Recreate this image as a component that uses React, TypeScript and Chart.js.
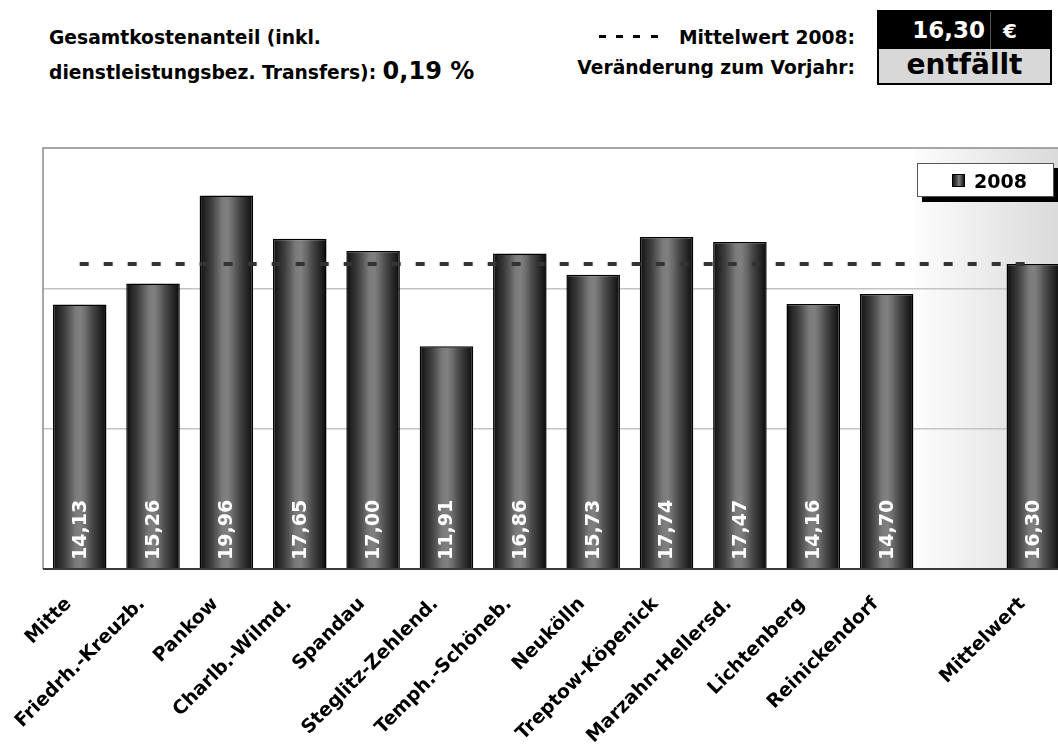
import React, { useEffect, useRef } from "react";
import { Chart, registerables } from "chart.js";

Chart.register(...registerables);

const categories = [
  "Mitte",
  "Friedrh.-Kreuzb.",
  "Pankow",
  "Charlb.-Wilmd.",
  "Spandau",
  "Steglitz-Zehlend.",
  "Temph.-Schöneb.",
  "Neukölln",
  "Treptow-Köpenick",
  "Marzahn-Hellersd.",
  "Lichtenberg",
  "Reinickendorf",
  "",
  "Mittelwert",
];
const values2008: (number | null)[] = [
  14.13, 15.26, 19.96, 17.65, 17.0, 11.91, 16.86, 15.73, 17.74, 17.47, 14.16, 14.7, null, 16.3,
];
const meanLine = [16.3, 16.3, 16.3, 16.3, 16.3, 16.3, 16.3, 16.3, 16.3, 16.3, 16.3, 16.3, 16.3, 16.3];
const yTicks = [0, 7.5, 15, 22.5];
const seriesLabel = "2008";

const FONT = "'DejaVu Sans', Verdana, sans-serif";
const BAR_PCT = 0.73;
const fmt = (v: number) => v.toFixed(2).replace(".", ",");

function barGradient(ctx: CanvasRenderingContext2D, x0: number, x1: number) {
  const g = ctx.createLinearGradient(x0, 0, x1, 0);
  g.addColorStop(0, "#0c0c0c");
  g.addColorStop(0.1, "#262626");
  g.addColorStop(0.2, "#3a3a3a");
  g.addColorStop(0.3, "#555555");
  g.addColorStop(0.42, "#7a7a7a");
  g.addColorStop(0.52, "#808080");
  g.addColorStop(0.62, "#6a6a6a");
  g.addColorStop(0.72, "#4c4c4c");
  g.addColorStop(0.82, "#343434");
  g.addColorStop(0.92, "#1e1e1e");
  g.addColorStop(1, "#080808");
  return g;
}

const decorPlugin = {
  id: "decor",
  beforeDraw(chart: any) {
    const { ctx, chartArea } = chart;
    if (!chartArea) return;
    const xs = chart.scales.x;
    const step = (chartArea.right - chartArea.left) / categories.length;
    const start = xs.getPixelForValue(11) + (step * BAR_PCT) / 2;
    ctx.save();
    const g = ctx.createLinearGradient(start, 0, chartArea.right, 0);
    g.addColorStop(0, "#fdfdfd");
    g.addColorStop(0.6, "#e6e6e6");
    g.addColorStop(1, "#d8d8d8");
    ctx.fillStyle = g;
    ctx.fillRect(start, chartArea.top, chartArea.right - start, chartArea.bottom - chartArea.top);
    ctx.restore();
  },
  afterDatasetsDraw(chart: any) {
    const { ctx, chartArea } = chart;
    const meta = chart.getDatasetMeta(1);
    ctx.save();
    ctx.strokeStyle = "#8a8a8a";
    ctx.lineWidth = 1.5;
    ctx.beginPath();
    ctx.moveTo(chartArea.left, chartArea.bottom);
    ctx.lineTo(chartArea.left, chartArea.top);
    ctx.lineTo(chartArea.right, chartArea.top);
    ctx.stroke();
    ctx.strokeStyle = "#3a3a3a";
    ctx.lineWidth = 2;
    ctx.beginPath();
    ctx.moveTo(chartArea.left, chartArea.bottom);
    ctx.lineTo(chartArea.right, chartArea.bottom);
    ctx.stroke();
    ctx.fillStyle = "#ffffff";
    ctx.font = `bold 19px ${FONT}`;
    ctx.textAlign = "left";
    ctx.textBaseline = "middle";
    meta.data.forEach((bar: any, i: number) => {
      const v = values2008[i];
      if (v == null) return;
      ctx.save();
      ctx.translate(bar.x + 1, chartArea.bottom - 9);
      ctx.rotate(-Math.PI / 2);
      ctx.fillText(fmt(v), 0, 0);
      ctx.restore();
    });
    ctx.restore();
  },
};

function ChartBox() {
  const ref = useRef<HTMLCanvasElement | null>(null);
  useEffect(() => {
    if (!ref.current) return;
    const chart = new Chart(ref.current, {
      type: "bar",
      data: {
        labels: categories,
        datasets: [
          {
            type: "line",
            label: "Mittelwert 2008",
            data: meanLine,
            borderColor: "#333333",
            borderWidth: 4,
            borderDash: [9, 15],
            pointRadius: 0,
            fill: false,
            order: 0,
          } as any,
          {
            type: "bar",
            label: seriesLabel,
            data: values2008,
            order: 1,
            categoryPercentage: 1,
            barPercentage: BAR_PCT,
            borderColor: "#000000",
            borderWidth: { top: 1.5, left: 1.5, right: 1.5, bottom: 0 },
            borderSkipped: false,
            backgroundColor: (c: any) => {
              const ch = c.chart;
              const area = ch.chartArea;
              if (!area || !ch.scales.x) return "#555";
              const step = (area.right - area.left) / categories.length;
              const w = step * BAR_PCT;
              const x = ch.scales.x.getPixelForValue(c.dataIndex);
              return barGradient(ch.ctx, x - w / 2, x + w / 2);
            },
          } as any,
        ],
      },
      options: {
        animation: false,
        responsive: false,
        devicePixelRatio: 1,
        layout: { padding: { left: 43, top: 8, right: 5, bottom: 0 } },
        plugins: { legend: { display: false }, tooltip: { enabled: false } },
        scales: {
          x: {
            grid: { display: false },
            border: { display: false },
            ticks: {
              autoSkip: false,
              minRotation: 45,
              maxRotation: 45,
              color: "#000",
              padding: 16,
              labelOffset: -11,
              font: { family: FONT, weight: "bold", size: 19 },
            },
            afterFit: (s: any) => {
              s.height = 177;
            },
          },
          y: {
            min: yTicks[0],
            max: yTicks[yTicks.length - 1],
            afterBuildTicks: (s: any) => {
              s.ticks = yTicks.map((v) => ({ value: v }));
            },
            ticks: { display: false },
            grid: {
              drawTicks: false,
              lineWidth: 1.5,
              color: (c: any) =>
                c.tick && (c.tick.value === 7.5 || c.tick.value === 15) ? "#c4c4c4" : "rgba(0,0,0,0)",
            },
            border: { display: false },
            afterFit: (s: any) => {
              s.width = 0;
            },
          },
        },
      },
      plugins: [decorPlugin],
    });
    return () => chart.destroy();
  }, []);
  return <canvas ref={ref} width={1075} height={606} style={{ display: "block" }} />;
}

export default function App() {
  useEffect(() => {
    document.body.style.margin = "0";
  }, []);
  const bold: React.CSSProperties = { fontFamily: FONT, fontWeight: "bold", position: "absolute", whiteSpace: "nowrap", lineHeight: 1 };
  const dash = (x: number) => (
    <div key={x} style={{ position: "absolute", left: x, top: 35, width: 7, height: 3, background: "#000" }} />
  );
  return (
    <div style={{ position: "fixed", left: 0, top: 0, width: 1058, height: 746, overflow: "hidden", background: "#fff" }}>
      <div style={{ ...bold, left: 49, top: 29, fontSize: 18.7 }}>Gesamtkostenanteil (inkl.</div>
      <div style={{ ...bold, left: 49, top: 59, fontSize: 18.7 }}>
        dienstleistungsbez. Transfers): <span style={{ fontSize: 24 }}>0,19 %</span>
      </div>
      {[599, 616, 633, 651].map(dash)}
      <div style={{ ...bold, right: 1058 - 855, top: 29, fontSize: 18.7, textAlign: "right" }}>Mittelwert 2008:</div>
      <div style={{ ...bold, right: 1058 - 855, top: 59, fontSize: 18.7, textAlign: "right" }}>
        Veränderung zum Vorjahr:
      </div>
      <div style={{ position: "absolute", left: 877, top: 10, width: 175, height: 75, border: "2px solid #000", boxSizing: "border-box" }}>
        <div style={{ position: "absolute", left: 0, top: 0, right: 0, height: 37, background: "#000" }} />
        <div style={{ position: "absolute", left: 0, top: 37, right: 0, bottom: 0, background: "#d8d8d8" }} />
        <div style={{ position: "absolute", left: 111, top: 0, width: 1, height: 37, background: "#555" }} />
        <div style={{ ...bold, color: "#fff", fontSize: 23, right: 65, top: 7 }}>16,30</div>
        <div style={{ ...bold, color: "#fff", fontSize: 20, left: 124, top: 9 }}>€</div>
        <div style={{ ...bold, color: "#000", fontSize: 28, left: 0, right: 0, textAlign: "center", top: 39 }}>entfällt</div>
      </div>
      <div style={{ position: "absolute", left: 0, top: 140 }}>
        <ChartBox />
      </div>
      <div
        style={{
          position: "absolute",
          left: 917,
          top: 163,
          width: 137,
          height: 34,
          background: "#fff",
          border: "1px solid #555",
          boxSizing: "border-box",
          boxShadow: "5px 5px 0 #000",
        }}
      >
        <div
          style={{
            position: "absolute",
            left: 34,
            top: 10,
            width: 13,
            height: 13,
            border: "1px solid #000",
            boxSizing: "border-box",
            background: "linear-gradient(90deg,#1a1a1a,#444 30%,#808080 55%,#444 80%,#111)",
          }}
        />
        <div style={{ ...bold, fontSize: 19, left: 56, top: 8 }}>{seriesLabel}</div>
      </div>
    </div>
  );
}
